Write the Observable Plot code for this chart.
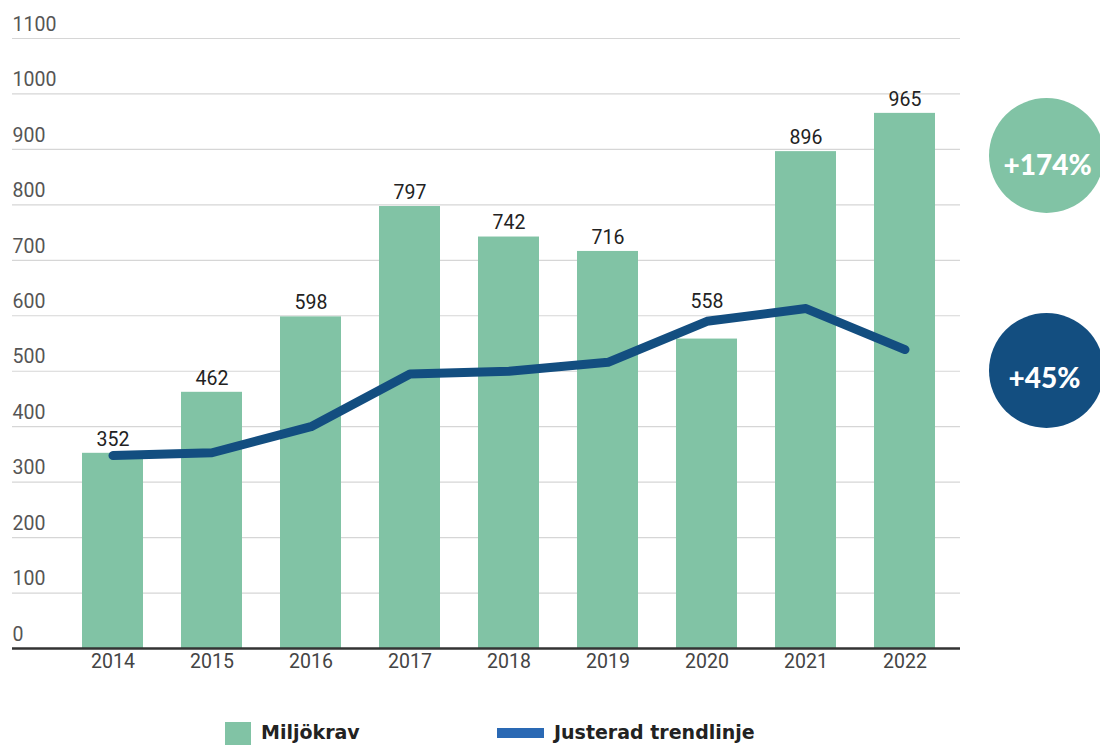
<!DOCTYPE html>
<html>
<head>
<meta charset="utf-8">
<script src="https://cdn.jsdelivr.net/npm/d3@7"></script>
<script src="https://cdn.jsdelivr.net/npm/@observablehq/plot@0.6"></script>
<style>
  html, body { margin: 0; padding: 0; background: #fff; }
  #chart { position: relative; width: 1100px; height: 700px; }
  #chart svg { display: block; }
  .legend { position: relative; width: 1100px; height: 45px; font-family: "DejaVu Sans", sans-serif; font-weight: 700; font-size: 19px; color: #222; }
  .legend .sw { position: absolute; }
  .legend .lbl { position: absolute; line-height: 20px; top: 22px; white-space: nowrap; }
</style>
</head>
<body>
<div id="chart"></div>
<div class="legend">
  <span class="sw" style="left:225px;top:22px;width:26px;height:24px;background:#81c3a5;"></span>
  <span class="lbl" style="left:261px;">Miljökrav</span>
  <span class="sw" style="left:497px;top:28px;width:47px;height:10px;background:#2a69b4;"></span>
  <span class="lbl" style="left:554px;">Justerad trendlinje</span>
</div>
<script>
const years = ["2014","2015","2016","2017","2018","2019","2020","2021","2022"];
const miljokrav = [352, 462, 598, 797, 742, 716, 558, 896, 965];
const trend = [348, 353, 400, 495, 500, 516, 590, 613, 539];
const yTicks = [0, 100, 200, 300, 400, 500, 600, 700, 800, 900, 1000, 1100];
const badges = ["+174%", "+45%"];

const barData = years.map((y, i) => ({year: y, value: miljokrav[i], trend: trend[i]}));
const lineData = years.map((y, i) => ({year: y, value: trend[i]}));

const green = "#81c3a5";
const navy = "#134e80";

const plot = Plot.plot({
  width: 1100,
  height: 700,
  marginTop: 38,
  marginBottom: 52,
  marginLeft: 12,
  marginRight: 140,
  style: {fontFamily: "Roboto, 'Noto Sans', sans-serif", background: "#fff", overflow: "visible"},
  x: {domain: years, range: [60.2, 957.3], paddingInner: 0.38, paddingOuter: 0.19, axis: null},
  y: {domain: [0, 1100], axis: null},
  marks: [
    Plot.ruleY(yTicks, {stroke: "#d6d6d6", strokeWidth: 1.2}),
    Plot.text(yTicks, {y: d => d, text: d => String(d), frameAnchor: "left", textAnchor: "start", dy: -14, fontSize: 19.5, fill: "#555"}),
    Plot.barY(barData, {x: "year", y: "value", fill: green}),
    Plot.ruleY([0], {stroke: "#333", strokeWidth: 2.5}),
    Plot.text(years, {x: d => d, text: d => d, frameAnchor: "bottom", dy: 19, fontSize: 19.5, fill: "#444"}),
    Plot.line(lineData, {x: "year", y: "value", stroke: navy, strokeWidth: 9, strokeLinecap: "round", strokeLinejoin: "round"}),
    // value labels sit above the bar, or above the trend line where it passes over the bar
    Plot.text(barData, {x: "year", y: d => (d.trend > d.value ? d.trend + 10 : d.value), text: d => String(d.value), dy: -14, fontSize: 19.5, fill: "#222"}),
    Plot.dot([badges[0]], {frameAnchor: "top-right", dx: 86, dy: 117, r: 57.5, fill: green, stroke: "none"}),
    Plot.dot([badges[1]], {frameAnchor: "top-right", dx: 86, dy: 332, r: 57.5, fill: navy, stroke: "none"}),
    Plot.text([badges[0]], {frameAnchor: "top-right", textAnchor: "middle", text: d => d, dx: 87, dy: 117, fontSize: 28, fontWeight: 900, fill: "#fff", fontFamily: "Lato, sans-serif"}),
    Plot.text([badges[1]], {frameAnchor: "top-right", textAnchor: "middle", text: d => d, dx: 84, dy: 330, fontSize: 28, fontWeight: 900, fill: "#fff", fontFamily: "Lato, sans-serif"})
  ]
});
document.getElementById("chart").appendChild(plot);
</script>
</body>
</html>
